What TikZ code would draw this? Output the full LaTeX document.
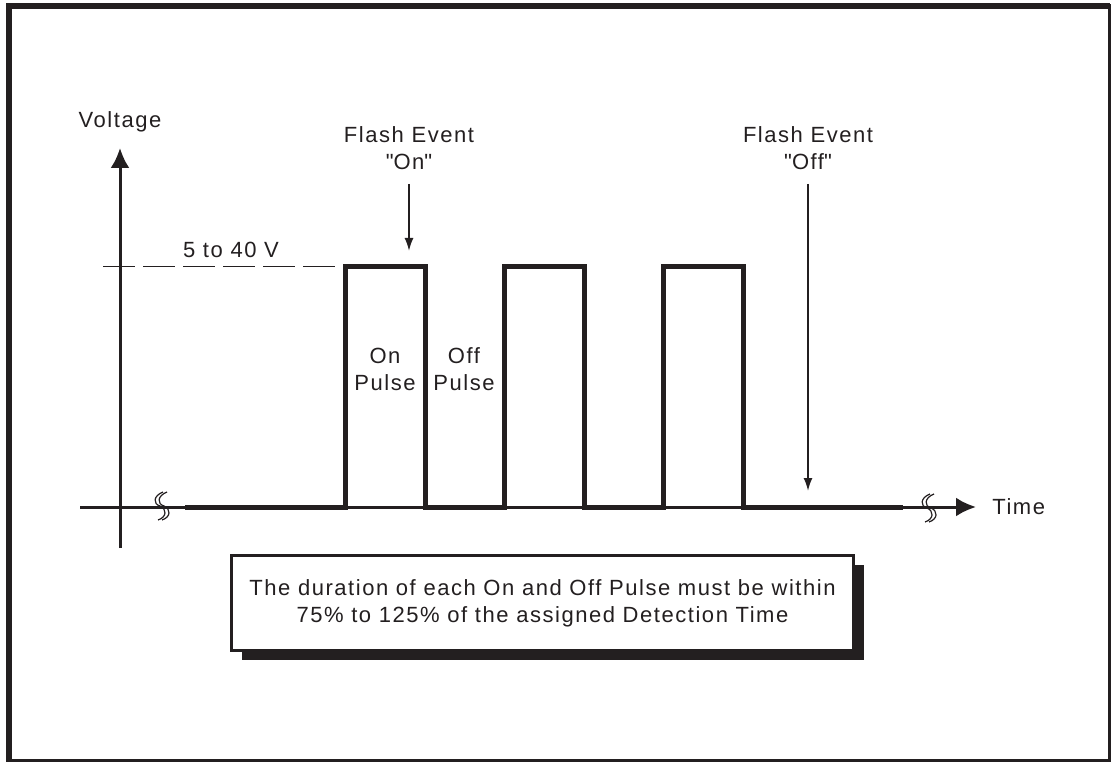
\documentclass[tikz,border=0pt]{standalone}
\usepackage{fontspec}
\setmainfont{Liberation Sans}[LetterSpace=7]
\usetikzlibrary{arrows.meta, shadows}
\definecolor{fxInk}{HTML}{231F20}
\tikzset{
  lbl/.style={font=\fontsize{11}{13.5}\selectfont, text=fxInk, inner sep=0pt, align=center},
  axis/.style={-{Latex[length=10pt, width=9.5pt]}, line width=1.5pt, draw=fxInk},
  pulse/.style={line width=2.5pt, draw=fxInk, line join=miter},
  evt/.style={-{Latex[length=6.5pt, width=4.5pt]}, line width=0.9pt, draw=fxInk},
  lvl/.style={line width=0.5pt, draw=fxInk, dash pattern=on 16pt off 4pt},
  note/.style={draw=fxInk, line width=1.4pt, fill=white, minimum width=311pt, minimum height=47.5pt,
    lbl, drop shadow={shadow xshift=5pt, shadow yshift=-4.5pt, fill=fxInk, opacity=1}},
  brk/.pic={
    \foreach \d in {0,4}
      \draw[fxInk, line width=0.6pt] (\d+4,-14) .. controls (\d-6,-10) and (\d-6,-2) .. (\d+1,0)
        .. controls (\d+8,3) and (\d+8,11) .. (\d-1,14);
  },
}

\begin{document}
\begin{tikzpicture}[x=0.5pt, y=-0.5pt]
  \useasboundingbox (0,0) rectangle (1111,763);
  % frame
  \draw[fxInk, line width=1.5pt] (9,6) rectangle (1109.5,760.5);
  \fill[fxInk] (6,3) rectangle (1110,9);
  \fill[fxInk] (6,3) rectangle (12,762);

  % axes
  \coordinate (ybot) at (120,548);
  \coordinate (ytop) at (120,148);
  \coordinate (xlft) at (80,507);
  \coordinate (xrgt) at (976,507);
  \draw[axis] (ybot) -- (ytop);
  \draw[axis] (xlft) -- (xrgt);
  \node[lbl, anchor=base] (vlab) at (120,128) {Voltage};
  \node[lbl, anchor=west] (tlab) at (992,507) {Time};
  \pic at (159,506) {brk};
  \pic at (926,508) {brk};

  % level
  \coordinate (lvla) at (103,267);
  \coordinate (lvlb) at (336,267);
  \draw[lvl] (lvla) -- (lvlb);
  \node[lbl, anchor=base] (vrng) at (231,258) {5 to 40 V};

  % pulse train
  \draw[pulse] (185,507) \foreach \x in {345,504,663}{
      -- (\x,507) -- (\x,267) -- (\x+80,267) -- (\x+80,507) } -- (903,507);
  \node[lbl] (onp)  at (385,369) {On\\Pulse};
  \node[lbl] (offp) at (464,369) {Off\\Pulse};

  % flash events
  \node[lbl] (fon)  at (409,148) {Flash Event\\\textquotedbl On\textquotedbl};
  \node[lbl] (foff) at (808,148) {Flash Event\\\textquotedbl Off\textquotedbl};
  \coordinate (ontip)  at (409,251);
  \coordinate (offtip) at (808,491);
  \draw[evt, shorten <=7pt] (fon.south) -- (ontip);
  \draw[evt, shorten <=7pt] (foff.south) -- (offtip);

  \node[note] (rule) at (542.5,603) {The duration of each On and Off Pulse must be within\\75\% to 125\% of the assigned Detection Time};
\end{tikzpicture}
\end{document}
